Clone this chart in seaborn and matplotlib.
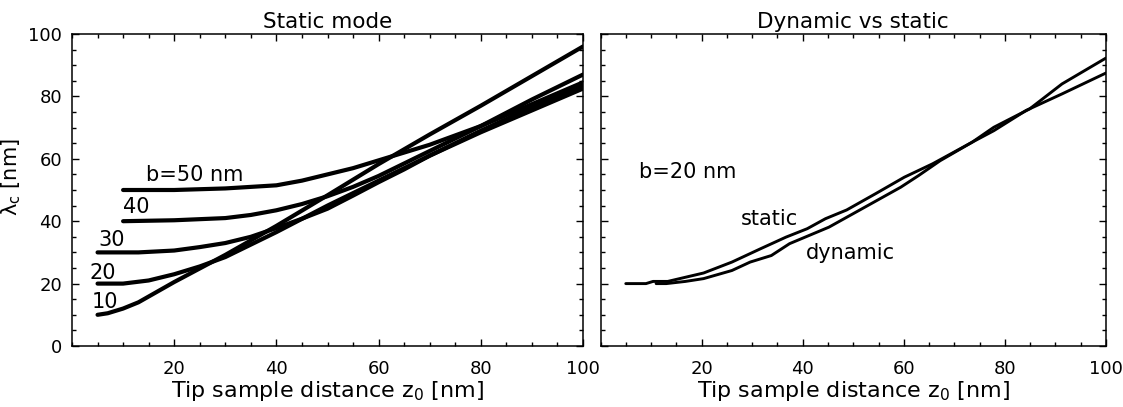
import numpy as np
import pandas as pd
import matplotlib
matplotlib.use("Agg")
import matplotlib.pyplot as plt
import seaborn as sns
from matplotlib.ticker import MultipleLocator, FixedLocator

# ---- data ----
z_b10 = [5, 7, 10, 13, 20, 30, 40, 50, 60, 70, 80, 90, 100]
lam_b10 = [10, 10.5, 12, 14, 20.5, 29.2, 38.5, 48.3, 58.3, 67.8, 77, 86.5, 96]

z_b20 = [5, 10, 15, 20, 25, 30, 40, 50, 60, 70, 80, 90, 100]
lam_b20 = [20, 20, 21, 23, 25.5, 28.5, 36.5, 45, 53, 61, 68.5, 75.5, 82.5]

z_b30 = [5, 13, 20, 25, 30, 35, 40, 45, 50, 55, 60, 65, 70, 80, 90, 100]
lam_b30 = [30, 30, 30.6, 31.7, 33, 35, 37.8, 40.8, 44, 48.2, 52.5, 56.6, 61, 69, 76.5, 83.5]

z_b40 = [10, 20, 30, 35, 40, 45, 50, 55, 60, 65, 70, 80, 90, 100]
lam_b40 = [40, 40.3, 41, 42, 43.5, 45.5, 48, 51, 54.5, 58.5, 62.5, 70.5, 77.5, 84.5]

z_b50 = [10, 20, 30, 40, 45, 50, 55, 60, 65, 70, 80, 90, 100]
lam_b50 = [50, 50, 50.5, 51.5, 53, 55, 57, 59.5, 62, 64.5, 70.5, 79, 87]

z_static = [5, 9, 10.4, 13.3, 20.4, 26, 31.7, 36.7, 40.9, 44.5, 48.7, 54.4, 60.1, 65.7, 73.5, 77.8, 84.9, 91.3, 100]
lam_static = [20, 20, 20.7, 20.7, 23.4, 26.9, 31.2, 34.9, 37.6, 40.8, 43.6, 48.8, 54.1, 58.4, 65.3, 70.1, 76, 84, 92.3]

z_dynamic = [11, 13, 16.8, 20.4, 26, 29.6, 33.8, 37.4, 45.2, 52.3, 59.4, 62.9, 67.2, 73.5, 77.8, 84.2, 91.3, 100]
lam_dynamic = [20, 20, 20.7, 21.6, 24.2, 26.9, 29, 32.8, 38.1, 44.5, 50.9, 54.6, 59.4, 65.3, 69, 75.5, 80.8, 87.5]

static_labels = ["10", "20", "30", "40", "b=50 nm"]
xticks = [20, 40, 60, 80, 100]
yticks = [0, 20, 40, 60, 80, 100]

# ---- build frames ----
left_df = pd.concat([
    pd.DataFrame({"z": z, "lam": l, "b": name})
    for z, l, name in [(z_b10, lam_b10, "10"), (z_b20, lam_b20, "20"),
                       (z_b30, lam_b30, "30"), (z_b40, lam_b40, "40"),
                       (z_b50, lam_b50, "50")]
], ignore_index=True)
right_df = pd.concat([
    pd.DataFrame({"z": z_static, "lam": lam_static, "mode": "static"}),
    pd.DataFrame({"z": z_dynamic, "lam": lam_dynamic, "mode": "dynamic"}),
], ignore_index=True)

sns.set_theme(style="white")
plt.rcParams["font.family"] = ["DejaVu Sans"]
plt.rcParams["text.color"] = "black"
plt.rcParams["axes.labelcolor"] = "black"
plt.rcParams["xtick.color"] = "black"
plt.rcParams["ytick.color"] = "black"
FS = 15
TFS = 13

fig = plt.figure(figsize=(11.23, 4.07), dpi=100)
ax1 = fig.add_axes([72 / 1123, 61 / 407, 511 / 1123, 312 / 407])
ax2 = fig.add_axes([600.5 / 1123, 61 / 407, 505.5 / 1123, 312 / 407])

sns.lineplot(data=left_df, x="z", y="lam", units="b", estimator=None, sort=False,
             color="black", linewidth=3.0, ax=ax1, legend=False)
sns.lineplot(data=right_df, x="z", y="lam", units="mode", estimator=None, sort=False,
             color="black", linewidth=2.1, ax=ax2, legend=False)

for ax in (ax1, ax2):
    ax.set_xlim(0, 100)
    ax.set_ylim(0, 100)
    ax.xaxis.set_major_locator(FixedLocator(xticks))
    ax.xaxis.set_minor_locator(MultipleLocator(5))
    ax.yaxis.set_major_locator(FixedLocator(yticks))
    ax.yaxis.set_minor_locator(MultipleLocator(5))
    ax.tick_params(which="both", direction="in", top=True, right=True,
                   bottom=True, left=True, color="black", width=1.0)
    ax.tick_params(which="major", length=5, labelsize=TFS, pad=10)
    ax.tick_params(which="minor", length=3)
    for s in ax.spines.values():
        s.set_color("black")
        s.set_linewidth(1.1)
    ax.set_xlabel("Tip sample distance z$_0$ [nm]", fontsize=16, labelpad=1)

ax1.set_ylabel("λ$_\\mathrm{c}$ [nm]", fontsize=FS)
ax1.yaxis.set_label_coords(-0.095, 0.54)
ax1.tick_params(axis="y", pad=7)
ax2.set_ylabel("")
ax2.tick_params(axis="y", labelleft=False)

ax1.set_title("Static mode", fontsize=15.5, pad=4)
ax2.set_title("Dynamic vs static", fontsize=15.5, pad=4)

# curve labels
label_pos = [(3.8, 14.2), (3.4, 23.5), (5.1, 34.1), (10.0, 44.4), (14.4, 54.8)]
for txt, (x, y) in zip(static_labels, label_pos):
    ax1.text(x, y, txt, fontsize=FS, ha="left", va="center", color="black")

ax2.text(7.6, 55.7, "b=20 nm", fontsize=FS, ha="left", va="center")
ax2.text(27.8, 40.8, "static", fontsize=FS, ha="left", va="center")
ax2.text(40.6, 29.9, "dynamic", fontsize=FS, ha="left", va="center")

fig.savefig("out.png", dpi=100)
